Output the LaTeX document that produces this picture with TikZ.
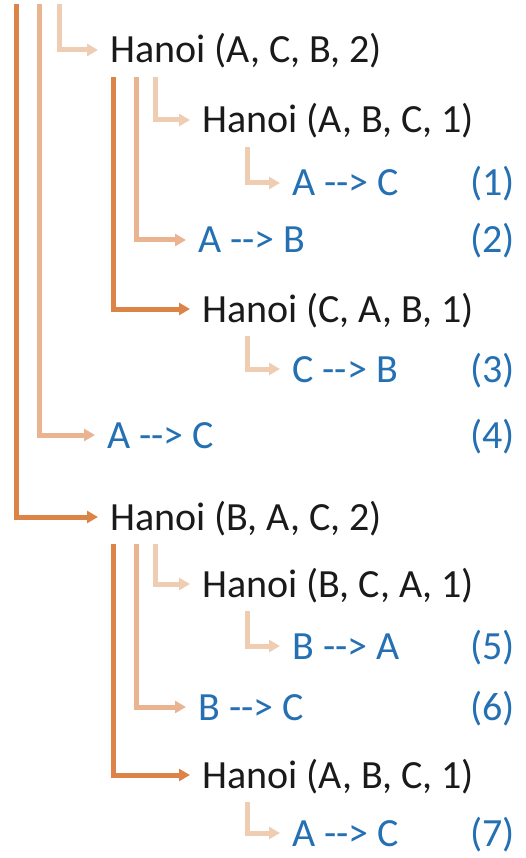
\documentclass[tikz,border=0pt]{standalone}
\usepackage{fontspec}
\setmainfont{Carlito}[Ligatures=TeXOff]
\usetikzlibrary{arrows.meta}

\definecolor{lvA}{HTML}{DC8448}
\definecolor{lvB}{HTML}{E9B48F}
\definecolor{lvC}{HTML}{EFCDB2}
\definecolor{movecol}{HTML}{2470B3}
\definecolor{callcol}{HTML}{1A1A1A}

\begin{document}
\begin{tikzpicture}[x=1pt,y=-1pt,
  every node/.style={inner sep=0pt, anchor=west, text height=26pt, text depth=0pt,
                     font=\fontsize{40}{48}\selectfont},
  call/.style={text=callcol},
  move/.style={text=movecol},
  stepno/.style={text=movecol},
  link/.style={line width=5pt, -{Triangle[length=11pt,width=12pt]}, shorten >=12pt},
  linkA/.style={link, draw=lvA},
  linkB/.style={link, draw=lvB},
  linkC/.style={link, draw=lvC}]
\useasboundingbox (0,0) rectangle (525,858);

% recursive calls and moves
\node[call] (h1) at (110,50)  {Hanoi (A, C, B, 2)};
\node[call] (h2) at (202,120) {Hanoi (A, B, C, 1)};
\node[move] (m1) at (292,183) {A --> C};
\node[stepno] (n1) at (470,183) {(1)};
\node[move] (m2) at (198,240) {A --> B};
\node[stepno] (n2) at (470,240) {(2)};
\node[call] (h3) at (202,309) {Hanoi (C, A, B, 1)};
\node[move] (m3) at (292,369) {C --> B};
\node[stepno] (n3) at (470,369) {(3)};
\node[move] (m4) at (107,435) {A --> C};
\node[stepno] (n4) at (470,435) {(4)};
\node[call] (h4) at (110,517) {Hanoi (B, A, C, 2)};
\node[call] (h5) at (202,584) {Hanoi (B, C, A, 1)};
\node[move] (m5) at (292,646) {B --> A};
\node[stepno] (n5) at (470,646) {(5)};
\node[move] (m6) at (198,707) {B --> C};
\node[stepno] (n6) at (470,707) {(6)};
\node[call] (h6) at (202,775) {Hanoi (A, B, C, 1)};
\node[move] (m7) at (292,833) {A --> C};
\node[stepno] (n7) at (470,833) {(7)};

% start points of the branch lines
\coordinate (t0A) at (16,4);
\coordinate (t0B) at (39,4);
\coordinate (t0C) at (59,4);
\coordinate (t1A) at (113,77);
\coordinate (t1B) at (136,77);
\coordinate (t1C) at (155,77);
\coordinate (t2C) at (247,147);
\coordinate (t3C) at (247,336);
\coordinate (t4A) at (113,544);
\coordinate (t4B) at (136,544);
\coordinate (t4C) at (155,544);
\coordinate (t5C) at (247,611);
\coordinate (t6C) at (247,802);

% top level
\draw[linkC] (t0C) |- (h1.west);
\draw[linkB] (t0B) |- (m4.west);
\draw[linkA] (t0A) |- (h4.west);
% inside Hanoi (A, C, B, 2)
\draw[linkC] (t1C) |- (h2.west);
\draw[linkB] (t1B) |- (m2.west);
\draw[linkA] (t1A) |- (h3.west);
\draw[linkC] (t2C) |- (m1.west);
\draw[linkC] (t3C) |- (m3.west);
% inside Hanoi (B, A, C, 2)
\draw[linkC] (t4C) |- (h5.west);
\draw[linkB] (t4B) |- (m6.west);
\draw[linkA] (t4A) |- (h6.west);
\draw[linkC] (t5C) |- (m5.west);
\draw[linkC] (t6C) |- (m7.west);
\end{tikzpicture}
\end{document}
